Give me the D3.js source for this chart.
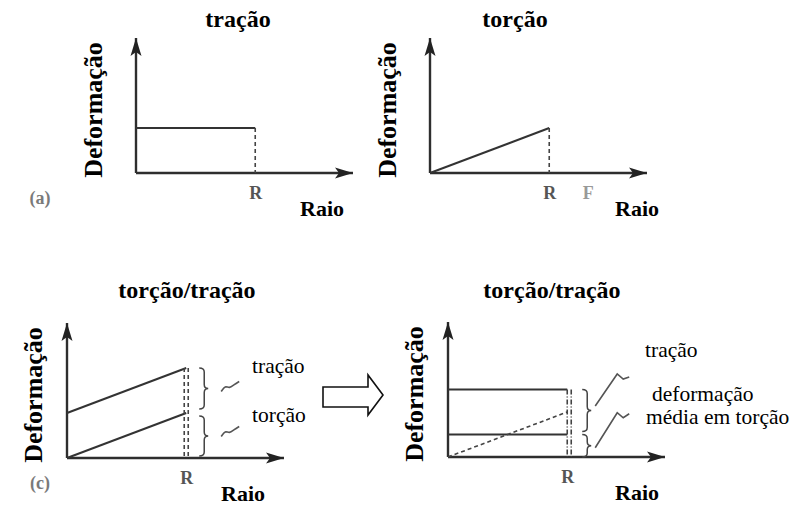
<!DOCTYPE html>
<html lang="pt">

<head>
	<meta charset="UTF-8"/>
	<title>Deformação em tração e torção</title>
	<script src="https://d3js.org/d3.v7.min.js"></script>

	<style>
		body {
			margin: 0;
			background: #fff;
		}
		svg text {
			font-family: "Times New Roman", Times, "Liberation Serif", "DejaVu Serif", serif;
		}
		.axis-line {
			stroke: #2e2e2e;
			stroke-width: 2.4;
		}
		.line {
			fill: none;
			stroke: #333;
			stroke-width: 2;
		}
		.dashed {
			fill: none;
			stroke: #444;
			stroke-width: 1.6;
			stroke-dasharray: 4 3;
		}
		.brace {
			fill: none;
			stroke: #444;
			stroke-width: 1.5;
		}
		.squiggle {
			fill: none;
			stroke: #555;
			stroke-width: 1.6;
		}
		.title {
			font-weight: bold;
			font-size: 24px;
			fill: #000;
		}
		.axis-title {
			font-weight: bold;
			font-size: 22px;
			fill: #000;
		}
		.y-title {
			font-weight: bold;
			font-size: 26px;
			fill: #000;
		}
		g.tick text {
			font-family: "Times New Roman", Times, "Liberation Serif", "DejaVu Serif", serif;
			font-weight: bold;
			font-size: 18px;
			fill: #555;
		}
		.panel-tag {
			font-weight: bold;
			font-size: 18px;
			fill: #7a7a7a;
		}
		.note {
			font-size: 21.5px;
			fill: #000;
		}
	</style>
</head>
<body>
	<div id="chart"></div>

	<script>
	var w = 795;
	var h = 510;

	// data (raio in units of R, deformação in arbitrary units)
	var panelTitles = ["tração", "torção", "torção/tração", "torção/tração"];
	var panelTags = ["(a)", "", "(c)", ""];
	var raioMax = 1.82;
	var defMax = 3;
	var raioR = 1;

	var tracao = [{r: 0, e: 1}, {r: 1, e: 1}];
	var torcao = [{r: 0, e: 0}, {r: 1, e: 1}];
	var torcaoTracao = [{r: 0, e: 1}, {r: 1, e: 2}];
	var tracaoMaisMedia = [{r: 0, e: 1.5}, {r: 1, e: 1.5}];
	var torcaoMedia = [{r: 0, e: 0.5}, {r: 1, e: 0.5}];

	var bracesC = [[2, 1], [1, 0]];
	var bracesD = [[1.5, 0.5], [0.5, 0]];
	var notesC = ["tração", "torção"];
	var notesD = ["tração", "deformação", "média em torção"];

	// layout of the four panels
	var panels = [
		{ox: 136, oy: 173, titleX: 238, titleY: 27, yLabX: 102, raioX: 322, tagX: 40},
		{ox: 430, oy: 173, titleX: 515, titleY: 27, yLabX: 396, raioX: 637, tagX: 0},
		{ox: 67,  oy: 458, titleX: 187, titleY: 298, yLabX: 42, raioX: 243, tagX: 40},
		{ox: 448, oy: 457, titleX: 552, titleY: 298, yLabX: 423, raioX: 637, tagX: 0}
	];

	var svg = d3.select("#chart")
				.append("svg")
				.attr("width", w)
				.attr("height", h);

	svg.append("defs").append("marker")
		.attr("id", "arrow")
		.attr("viewBox", "0 0 18 12")
		.attr("refX", 18)
		.attr("refY", 6)
		.attr("markerWidth", 18)
		.attr("markerHeight", 12)
		.attr("markerUnits", "userSpaceOnUse")
		.attr("orient", "auto")
		.append("path")
		.attr("d", "M0,0.5 L18,6 L0,11.5 L4,6 Z")
		.attr("fill", "#222");

	var line = d3.line();

	function brace(x, ya, yb) {
		var ym = (ya + yb) / 2;
		var r = 4;
		return "M" + x + "," + ya +
			" Q" + (x + 5) + "," + ya + " " + (x + 5) + "," + (ya + r) +
			" L" + (x + 5) + "," + (ym - r) +
			" Q" + (x + 5) + "," + ym + " " + (x + 9) + "," + ym +
			" Q" + (x + 5) + "," + ym + " " + (x + 5) + "," + (ym + r) +
			" L" + (x + 5) + "," + (yb - r) +
			" Q" + (x + 5) + "," + yb + " " + x + "," + yb;
	}

	var scales = panels.map(function(p, i){
		var xScale = d3.scaleLinear().domain([0, raioMax]).range([p.ox, p.ox + 217]);
		var yScale = d3.scaleLinear().domain([0, defMax]).range([p.oy, p.oy - 135]);

		var g = svg.append("g").attr("class", "panel");

		// axes with arrow heads
		g.append("line")
			.attr("class", "axis-line")
			.attr("x1", xScale(0)).attr("y1", yScale(0))
			.attr("x2", xScale(raioMax)).attr("y2", yScale(0))
			.attr("marker-end", "url(#arrow)");
		g.append("line")
			.attr("class", "axis-line")
			.attr("x1", xScale(0)).attr("y1", yScale(0))
			.attr("x2", xScale(0)).attr("y2", yScale(defMax))
			.attr("marker-end", "url(#arrow)");

		var xAxis = d3.axisBottom()
					.scale(xScale)
					.tickValues([raioR])
					.tickFormat(function(){ return "R"; })
					.tickSize(0)
					.tickPadding(13);
		g.append("g")
			.attr("transform", "translate(0," + yScale(0) + ")")
			.call(xAxis)
			.attr("font-family", null)
			.attr("font-size", null)
			.call(function(a){ a.select(".domain").remove(); });

		g.append("text")
			.attr("class", "title")
			.attr("x", p.titleX)
			.attr("y", p.titleY)
			.attr("text-anchor", "middle")
			.text(panelTitles[i]);

		g.append("text")
			.attr("class", "y-title")
			.attr("transform", "translate(" + p.yLabX + "," + (yScale(0) - 63) + ") rotate(-90)")
			.attr("text-anchor", "middle")
			.text("Deformação");

		g.append("text")
			.attr("class", "axis-title")
			.attr("x", p.raioX)
			.attr("y", yScale(0) + 43)
			.attr("text-anchor", "middle")
			.text("Raio");

		if (panelTags[i]) {
			g.append("text")
				.attr("class", "panel-tag")
				.attr("x", p.tagX)
				.attr("y", yScale(0) + 31)
				.attr("text-anchor", "middle")
				.text(panelTags[i]);
		}

		return {g: g, x: xScale, y: yScale};
	});

	// (a) tração
	var a = scales[0];
	line.x(function(d){ return a.x(d.r); }).y(function(d){ return a.y(d.e); });
	a.g.append("path").datum(tracao).attr("class", "line").attr("d", line);
	a.g.append("line").attr("class", "dashed")
		.attr("x1", a.x(raioR)).attr("x2", a.x(raioR))
		.attr("y1", a.y(tracao[1].e)).attr("y2", a.y(0));

	// (b) torção
	var b = scales[1];
	line.x(function(d){ return b.x(d.r); }).y(function(d){ return b.y(d.e); });
	b.g.append("path").datum(torcao).attr("class", "line").attr("d", line);
	b.g.append("line").attr("class", "dashed")
		.attr("x1", b.x(raioR)).attr("x2", b.x(raioR))
		.attr("y1", b.y(torcao[1].e)).attr("y2", b.y(0));
	b.g.append("text")
		.attr("x", b.x(raioR) + 39)
		.attr("y", b.y(0) + 26)
		.attr("text-anchor", "middle")
		.style("font-weight", "bold")
		.style("font-size", "18px")
		.style("fill", "#999")
		.text("F");

	// (c) torção/tração
	var c = scales[2];
	line.x(function(d){ return c.x(d.r); }).y(function(d){ return c.y(d.e); });
	c.g.append("path").datum(torcaoTracao).attr("class", "line").attr("d", line);
	c.g.append("path").datum(torcao).attr("class", "line").attr("d", line);
	[-2, 2].forEach(function(dx){
		c.g.append("line").attr("class", "dashed")
			.attr("x1", c.x(raioR) + dx).attr("x2", c.x(raioR) + dx)
			.attr("y1", c.y(torcaoTracao[1].e)).attr("y2", c.y(0));
	});
	bracesC.forEach(function(bb, k){
		var bx = c.x(raioR) + 13;
		c.g.append("path").attr("class", "brace")
			.attr("d", brace(bx, c.y(bb[0]) + (k ? 3 : 0), c.y(bb[1]) - (k ? 2 : 4)));
		var ty = c.y((bb[0] + bb[1]) / 2);
		c.g.append("path").attr("class", "squiggle")
			.attr("d", d3.line().curve(d3.curveBasis)([
				[bx + 22, ty + 1], [bx + 26, ty - 5], [bx + 30, ty - 2],
				[bx + 35, ty - 6], [bx + 40, ty - 9]
			]));
	});
	notesC.forEach(function(t, k){
		c.g.append("text").attr("class", "note")
			.attr("x", 252)
			.attr("y", c.y(torcaoTracao[1 - k].e) + (k ? 9 : 5))
			.text(t);
	});

	// arrow between (c) and (d)
	svg.append("path")
		.attr("d", "M323,387 H368 V375 L383,395 L368,415 V407 H323 Z")
		.attr("fill", "#fff")
		.attr("stroke", "#111")
		.attr("stroke-width", 1.6);

	// (d) torção/tração com deformação média
	var d = scales[3];
	line.x(function(v){ return d.x(v.r); }).y(function(v){ return d.y(v.e); });
	d.g.append("path").datum(tracaoMaisMedia).attr("class", "line").attr("d", line);
	d.g.append("path").datum(torcaoMedia).attr("class", "line").attr("d", line);
	d.g.append("path").datum(torcao).attr("class", "dashed").attr("d", line);
	[0, 4].forEach(function(dx){
		d.g.append("line").attr("class", "dashed")
			.style("stroke-dasharray", "5 2 1 2")
			.attr("x1", d.x(raioR) + dx).attr("x2", d.x(raioR) + dx)
			.attr("y1", d.y(tracaoMaisMedia[1].e)).attr("y2", d.y(0));
	});
	bracesD.forEach(function(bb, k){
		var bx = d.x(raioR) + 15;
		d.g.append("path").attr("class", "brace")
			.attr("d", brace(bx, d.y(bb[0]), d.y(bb[1]) - (k ? 0 : 3)));
		var sy = d.y((bb[0] + bb[1]) / 2);
		d.g.append("path").attr("class", "squiggle")
			.attr("d", d3.line()([
				[bx + 13, sy + (k ? 2 : -6)], [bx + 35, sy + (k ? -33 : -38)],
				[bx + 41, sy + (k ? -28 : -33)], [bx + 47, sy + (k ? -32 : -35)]
			]));
	});
	d.g.append("text").attr("class", "note").attr("x", 645).attr("y", 357).text(notesD[0]);
	d.g.append("text").attr("class", "note").attr("x", 652).attr("y", 401).text(notesD[1]);
	d.g.append("text").attr("class", "note").attr("x", 646).attr("y", 424).text(notesD[2]);
	</script>
</body>
</html>
